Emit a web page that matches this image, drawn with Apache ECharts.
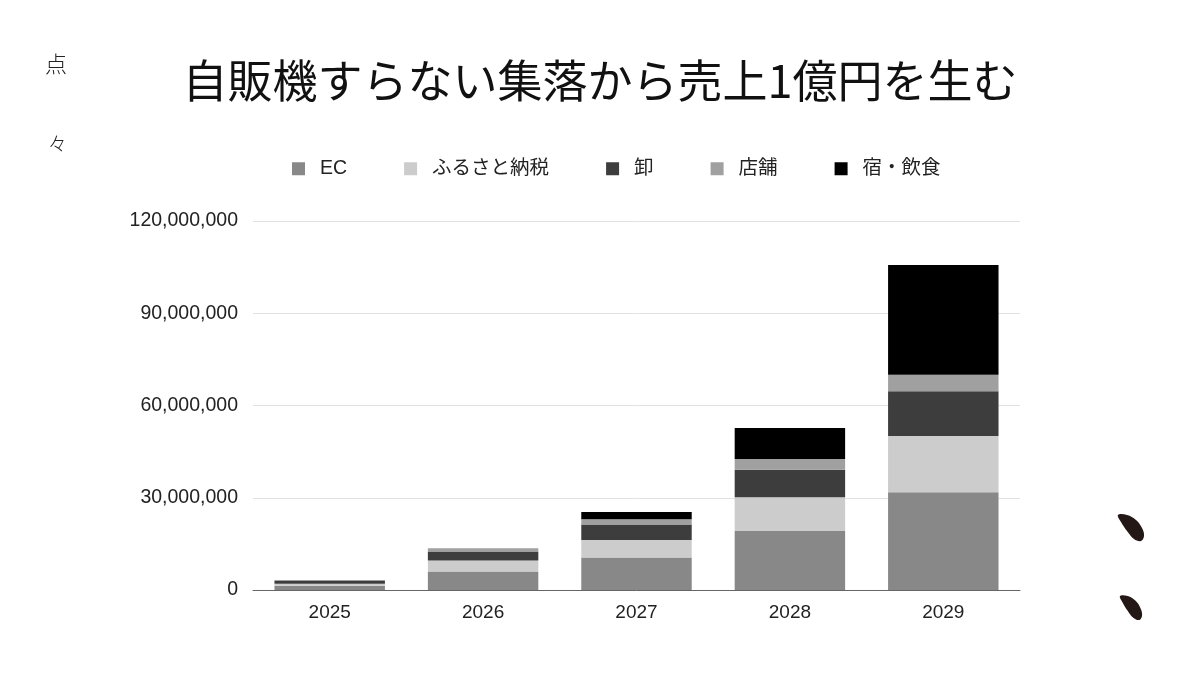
<!DOCTYPE html>
<html>
<head>
<meta charset="utf-8">
<script src="https://cdn.jsdelivr.net/npm/echarts@6/dist/echarts.min.js"></script>
<style>
  html, body { margin: 0; padding: 0; background: #ffffff; }
  #chart { width: 1200px; height: 675px; }
</style>
</head>
<body>
<div id="chart"></div>
<script>
const titleText = '自販機すらない集落から売上1億円を生む';
const categories = ['2025', '2026', '2027', '2028', '2029'];
const seriesNames = ['EC', 'ふるさと納税', '卸', '店舗', '宿・飲食'];
const ecValues        = [1400000, 6000000, 10600000, 19200000, 31800000];
const furusatoValues  = [650000, 3600000, 5700000, 11000000, 18300000];
const wholesaleValues = [870000, 2900000, 5000000, 8900000, 14500000];
const storeValues     = [300000, 1100000, 1700000, 3500000, 5400000];
const innValues       = [0, 0, 2400000, 10100000, 35700000];
const yTicks = [0, 30000000, 60000000, 90000000, 120000000];

const colors = ['#888888', '#cccccc', '#3d3d3d', '#a0a0a0', '#000000'];
const allValues = [ecValues, furusatoValues, wholesaleValues, storeValues, innValues];

const FONT = '"Noto Sans CJK JP", "Noto Sans", sans-serif';
const LATIN = '"Liberation Sans", "Noto Sans CJK JP", sans-serif';

const leafPoints = [[0, 0], [9, 0], [18, 5], [24, 13], [26, 21], [23, 26], [16, 24], [9, 16], [3, 7]];

const chart = echarts.init(document.getElementById('chart'));
chart.setOption({
  backgroundColor: '#ffffff',
  animation: false,
  textStyle: { fontFamily: FONT },
  title: {
    text: titleText,
    left: 'center',
    top: 53,
    textStyle: { fontFamily: FONT, fontSize: 45, fontWeight: 'normal', color: '#111111' }
  },
  legend: {
    left: 287,
    top: 154,
    icon: 'rect',
    itemWidth: 13,
    itemHeight: 13,
    itemGap: 57,
    data: seriesNames,
    textStyle: { fontFamily: LATIN, fontSize: 19.5, color: '#222222', padding: [0, 0, 0, 10] }
  },
  grid: { left: 253, right: 180, top: 221, bottom: 85, containLabel: false },
  xAxis: {
    type: 'category',
    data: categories,
    axisLine: { lineStyle: { color: '#666666', width: 1 } },
    axisTick: { show: false },
    axisLabel: { fontSize: 19, color: '#222222', margin: 13, fontFamily: LATIN }
  },
  yAxis: {
    type: 'value',
    min: yTicks[0],
    max: yTicks[yTicks.length - 1],
    interval: yTicks[1] - yTicks[0],
    axisLine: { show: false },
    axisTick: { show: false },
    splitLine: { lineStyle: { color: '#e2e2e2', width: 1 } },
    axisLabel: {
      fontSize: 19.5, color: '#222222', margin: 15, fontFamily: LATIN,
      formatter: v => v.toLocaleString('en-US')
    }
  },
  series: seriesNames.map((name, i) => ({
    name: name,
    type: 'bar',
    stack: 'total',
    barWidth: '72%',
    itemStyle: { color: colors[i] },
    data: allValues[i]
  })),
  graphic: [
    { type: 'text', x: 45, y: 53, style: { text: '点', font: '300 22px "Noto Sans CJK JP"', fill: '#222222' } },
    { type: 'text', x: 48, y: 134, style: { text: '々', font: '300 19px "Noto Sans CJK JP"', fill: '#222222' } },
    { type: 'polygon', x: 1118, y: 515, shape: { points: leafPoints, smooth: 0.4 }, style: { fill: '#231815' } },
    { type: 'polygon', x: 1120, y: 596, scaleX: 0.85, scaleY: 0.92, shape: { points: leafPoints, smooth: 0.4 }, style: { fill: '#231815' } }
  ]
});
</script>
</body>
</html>
